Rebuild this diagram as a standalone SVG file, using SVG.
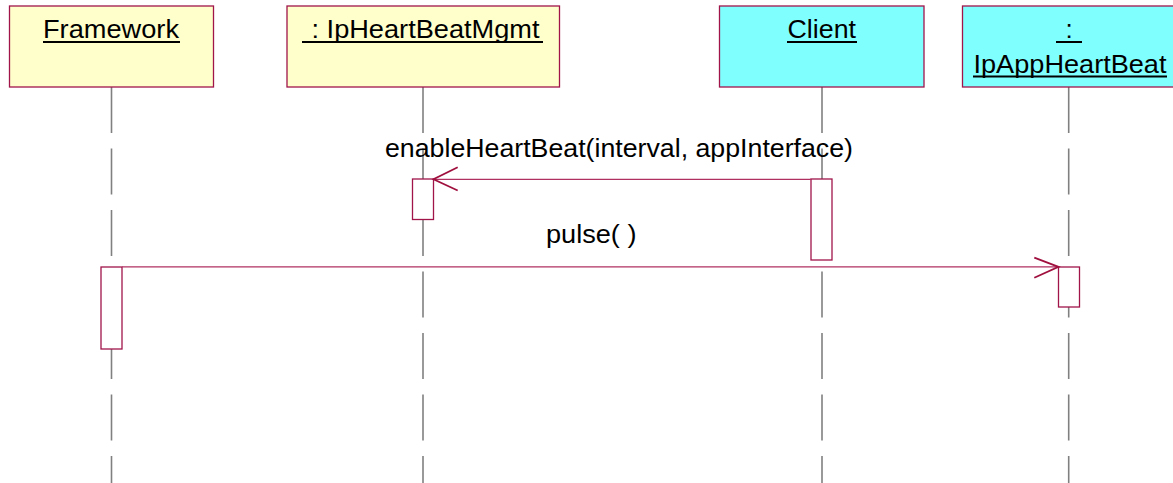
<svg xmlns="http://www.w3.org/2000/svg" width="1173" height="483" viewBox="0 0 1173 483">
<style>
.yel{fill:#FFFFCC;stroke:#A0144A;stroke-width:1.3}
.cyn{fill:#80FFFF;stroke:#A0144A;stroke-width:1.3}
.lbl{font-family:"Liberation Sans",Arial,sans-serif;font-size:26px;fill:#000}
.msg{font-family:"Liberation Sans",Arial,sans-serif;font-size:25px;fill:#000}
.ul{stroke:#000;stroke-width:2}
.life{stroke:#808080;stroke-width:1.6;stroke-dasharray:46 15.5;fill:none}
.act{fill:#FFFFFF;stroke:#A0144A;stroke-width:1.3}
.mline{stroke:#B03060;stroke-width:1.3;fill:none}
.head{stroke:#A0103F;stroke-width:1.8;fill:none}
</style>
<g id="lifelines">
<line class="life" x1="111.5" y1="87" x2="111.5" y2="483"/>
<line class="life" x1="423" y1="87" x2="423" y2="483"/>
<line class="life" x1="822" y1="87" x2="822" y2="483"/>
<line class="life" x1="1068.7" y1="87" x2="1068.7" y2="483"/>
</g>
<g id="node-framework">
<rect class="yel" x="9.5" y="6" width="204" height="81"/>
<text class="lbl" x="43" y="38" textLength="136" lengthAdjust="spacingAndGlyphs">Framework</text>
<line class="ul" x1="43" y1="42" x2="180" y2="42"/>
</g>
<g id="node-heartbeatmgmt">
<rect class="yel" x="287" y="6" width="272.5" height="81"/>
<text class="lbl" x="311.5" y="38" textLength="228" lengthAdjust="spacingAndGlyphs">: IpHeartBeatMgmt</text>
<line class="ul" x1="302" y1="42" x2="543" y2="42"/>
</g>
<g id="node-client">
<rect class="cyn" x="719.5" y="6" width="204.5" height="81"/>
<text class="lbl" x="787.5" y="38" textLength="68.5" lengthAdjust="spacingAndGlyphs">Client</text>
<line class="ul" x1="787" y1="42" x2="857" y2="42"/>
</g>
<g id="node-appheartbeat">
<rect class="cyn" x="962.5" y="6" width="212" height="81"/>
<text class="lbl" x="1069" y="38" text-anchor="middle">:</text>
<line class="ul" x1="1056" y1="42" x2="1082" y2="42"/>
<text class="lbl" x="973.5" y="72.5" textLength="193" lengthAdjust="spacingAndGlyphs">IpAppHeartBeat</text>
<line class="ul" x1="973" y1="76.5" x2="1167" y2="76.5"/>
</g>
<g id="activations">
<rect class="act" x="412.5" y="179" width="21" height="40.5"/>
<rect class="act" x="811" y="179" width="21" height="81"/>
<rect class="act" x="101" y="267" width="21" height="82"/>
<rect class="act" x="1058.5" y="267" width="21" height="40"/>
</g>
<g id="connectors">
<line class="mline" x1="811" y1="179.3" x2="433.5" y2="179.3"/>
<polyline class="head" points="457.7,167.3 433.5,179.3 457.7,190.5"/>
<text class="msg" x="385" y="156.5" textLength="468" lengthAdjust="spacingAndGlyphs">enableHeartBeat(interval, appInterface)</text>
<line class="mline" x1="122" y1="266.8" x2="1058.5" y2="266.8"/>
<polyline class="head" points="1034.3,257.7 1058.5,266.8 1034.3,277.7"/>
<text class="msg" x="546" y="243.3" textLength="90.5" lengthAdjust="spacingAndGlyphs">pulse( )</text>
</g>
</svg>
